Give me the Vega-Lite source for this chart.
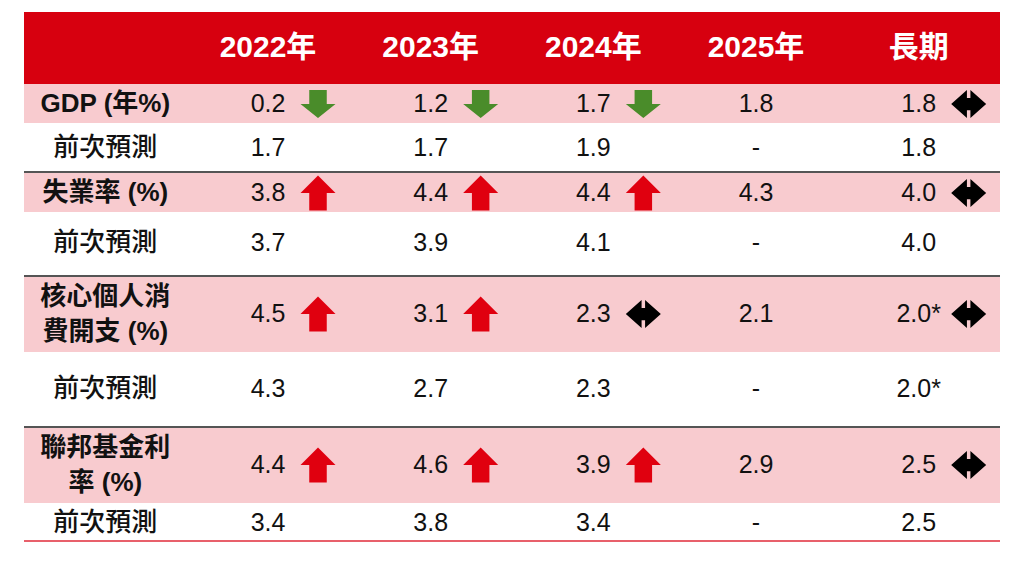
{
  "$schema": "https://vega.github.io/schema/vega-lite/v6.json",
  "width": 1024,
  "height": 571,
  "padding": 0,
  "autosize": {"type": "none"},
  "background": "#ffffff",
  "config": {"view": {"stroke": null}},
  "datasets": {
    "rows": [
      {"row": "header", "kind": "header", "top": 12, "bottom": 84, "mid": 48},
      {"row": "gdp", "kind": "main", "top": 84, "bottom": 123, "mid": 104},
      {"row": "prev1", "kind": "prev", "top": 123, "bottom": 172, "mid": 148},
      {"row": "unemp", "kind": "main", "top": 172, "bottom": 212, "mid": 193},
      {"row": "prev2", "kind": "prev", "top": 212, "bottom": 276, "mid": 243},
      {"row": "pce", "kind": "main", "top": 276, "bottom": 352, "mid": 314},
      {"row": "prev3", "kind": "prev", "top": 352, "bottom": 427, "mid": 389},
      {"row": "ffr", "kind": "main", "top": 427, "bottom": 503, "mid": 465},
      {"row": "prev4", "kind": "prev", "top": 503, "bottom": 541, "mid": 523}
    ],
    "lines": [
      {"y": 172, "kind": "sep"},
      {"y": 276, "kind": "sep"},
      {"y": 427, "kind": "sep"},
      {"y": 541, "kind": "end"}
    ],
    "header": [
      {"row": "header", "col": "2022年", "text": "2022年"},
      {"row": "header", "col": "2023年", "text": "2023年"},
      {"row": "header", "col": "2024年", "text": "2024年"},
      {"row": "header", "col": "2025年", "text": "2025年"},
      {"row": "header", "col": "長期", "text": "長期"}
    ],
    "labels": [
      {"row": "gdp", "kind": "main", "col": "label", "text": "GDP (年%)"},
      {"row": "prev1", "kind": "prev", "col": "label", "text": "前次預測"},
      {"row": "unemp", "kind": "main", "col": "label", "text": "失業率 (%)"},
      {"row": "prev2", "kind": "prev", "col": "label", "text": "前次預測"},
      {"row": "pce", "kind": "main2", "col": "label", "text": "核心個人消\n費開支 (%)"},
      {"row": "prev3", "kind": "prev", "col": "label", "text": "前次預測"},
      {"row": "ffr", "kind": "main2", "col": "label", "text": "聯邦基金利\n率 (%)"},
      {"row": "prev4", "kind": "prev", "col": "label", "text": "前次預測"}
    ],
    "cells": [
      {"row": "gdp", "col": "2022年", "text": "0.2", "arrow": "down"},
      {"row": "gdp", "col": "2023年", "text": "1.2", "arrow": "down"},
      {"row": "gdp", "col": "2024年", "text": "1.7", "arrow": "down"},
      {"row": "gdp", "col": "2025年", "text": "1.8", "arrow": null},
      {"row": "gdp", "col": "長期", "text": "1.8", "arrow": "both"},
      {"row": "prev1", "col": "2022年", "text": "1.7", "arrow": null},
      {"row": "prev1", "col": "2023年", "text": "1.7", "arrow": null},
      {"row": "prev1", "col": "2024年", "text": "1.9", "arrow": null},
      {"row": "prev1", "col": "2025年", "text": "-", "arrow": null},
      {"row": "prev1", "col": "長期", "text": "1.8", "arrow": null},
      {"row": "unemp", "col": "2022年", "text": "3.8", "arrow": "up"},
      {"row": "unemp", "col": "2023年", "text": "4.4", "arrow": "up"},
      {"row": "unemp", "col": "2024年", "text": "4.4", "arrow": "up"},
      {"row": "unemp", "col": "2025年", "text": "4.3", "arrow": null},
      {"row": "unemp", "col": "長期", "text": "4.0", "arrow": "both"},
      {"row": "prev2", "col": "2022年", "text": "3.7", "arrow": null},
      {"row": "prev2", "col": "2023年", "text": "3.9", "arrow": null},
      {"row": "prev2", "col": "2024年", "text": "4.1", "arrow": null},
      {"row": "prev2", "col": "2025年", "text": "-", "arrow": null},
      {"row": "prev2", "col": "長期", "text": "4.0", "arrow": null},
      {"row": "pce", "col": "2022年", "text": "4.5", "arrow": "up"},
      {"row": "pce", "col": "2023年", "text": "3.1", "arrow": "up"},
      {"row": "pce", "col": "2024年", "text": "2.3", "arrow": "both"},
      {"row": "pce", "col": "2025年", "text": "2.1", "arrow": null},
      {"row": "pce", "col": "長期", "text": "2.0*", "arrow": "both"},
      {"row": "prev3", "col": "2022年", "text": "4.3", "arrow": null},
      {"row": "prev3", "col": "2023年", "text": "2.7", "arrow": null},
      {"row": "prev3", "col": "2024年", "text": "2.3", "arrow": null},
      {"row": "prev3", "col": "2025年", "text": "-", "arrow": null},
      {"row": "prev3", "col": "長期", "text": "2.0*", "arrow": null},
      {"row": "ffr", "col": "2022年", "text": "4.4", "arrow": "up"},
      {"row": "ffr", "col": "2023年", "text": "4.6", "arrow": "up"},
      {"row": "ffr", "col": "2024年", "text": "3.9", "arrow": "up"},
      {"row": "ffr", "col": "2025年", "text": "2.9", "arrow": null},
      {"row": "ffr", "col": "長期", "text": "2.5", "arrow": "both"},
      {"row": "prev4", "col": "2022年", "text": "3.4", "arrow": null},
      {"row": "prev4", "col": "2023年", "text": "3.8", "arrow": null},
      {"row": "prev4", "col": "2024年", "text": "3.4", "arrow": null},
      {"row": "prev4", "col": "2025年", "text": "-", "arrow": null},
      {"row": "prev4", "col": "長期", "text": "2.5", "arrow": null}
    ]
  },
  "resolve": {"scale": {"x": "independent", "fill": "independent", "shape": "independent", "stroke": "independent"}},
  "layer": [
    {
      "data": {"name": "rows"},
      "mark": {"type": "rect", "strokeWidth": 0},
      "encoding": {
        "x": {"datum": 0, "type": "quantitative", "scale": {"domain": [0, 1], "range": [24, 1000], "nice": false, "zero": false}, "axis": null},
        "x2": {"datum": 1},
        "y": {"field": "top", "type": "quantitative", "scale": {"domain": [0, 571], "range": [0, 571], "nice": false, "zero": false}, "axis": null},
        "y2": {"field": "bottom"},
        "fill": {"field": "kind", "type": "nominal", "scale": {"domain": ["header", "main", "prev"], "range": ["#d7000f", "#f8cbcf", "#ffffff"]}, "legend": null}
      }
    },
    {
      "data": {"name": "lines"},
      "mark": {"type": "rule", "strokeWidth": 1.8},
      "encoding": {
        "x": {"datum": 0, "type": "quantitative", "scale": {"domain": [0, 1], "range": [24, 1000], "nice": false, "zero": false}, "axis": null},
        "x2": {"datum": 1},
        "y": {"field": "y", "type": "quantitative", "axis": null},
        "stroke": {"field": "kind", "type": "nominal", "scale": {"domain": ["sep", "end"], "range": ["#555555", "#e8606b"]}, "legend": null}
      }
    },
    {
      "data": {"name": "header"},
      "transform": [{"lookup": "row", "from": {"data": {"name": "rows"}, "key": "row", "fields": ["mid"]}}],
      "mark": {"type": "text", "font": "Liberation Sans, Noto Sans CJK TC", "fontSize": 30, "fontWeight": "bold", "color": "#ffffff", "align": "center", "baseline": "middle"},
      "encoding": {
        "x": {"field": "col", "type": "nominal", "scale": {"type": "band", "domain": ["label", "2022年", "2023年", "2024年", "2025年", "長期"], "range": [24, 1000], "paddingInner": 0, "paddingOuter": 0}, "axis": null},
        "y": {"field": "mid", "type": "quantitative", "axis": null},
        "text": {"field": "text", "type": "nominal"}
      }
    },
    {
      "data": {"name": "labels"},
      "transform": [
        {"filter": "datum.kind == 'main'"},
        {"lookup": "row", "from": {"data": {"name": "rows"}, "key": "row", "fields": ["mid"]}}
      ],
      "mark": {"type": "text", "font": "Liberation Sans, Noto Sans CJK TC", "fontSize": 26, "fontWeight": "bold", "color": "#111111", "align": "center", "baseline": "middle"},
      "encoding": {
        "x": {"field": "col", "type": "nominal", "scale": {"type": "band", "domain": ["label", "2022年", "2023年", "2024年", "2025年", "長期"], "range": [24, 1000], "paddingInner": 0, "paddingOuter": 0}, "axis": null},
        "y": {"field": "mid", "type": "quantitative", "axis": null},
        "text": {"field": "text", "type": "nominal"}
      }
    },
    {
      "data": {"name": "labels"},
      "transform": [
        {"filter": "datum.kind == 'main2'"},
        {"lookup": "row", "from": {"data": {"name": "rows"}, "key": "row", "fields": ["mid"]}}
      ],
      "mark": {"type": "text", "font": "Liberation Sans, Noto Sans CJK TC", "fontSize": 26, "fontWeight": "bold", "color": "#111111", "align": "center", "baseline": "middle", "lineBreak": "\n", "lineHeight": 35, "dy": -17},
      "encoding": {
        "x": {"field": "col", "type": "nominal", "scale": {"type": "band", "domain": ["label", "2022年", "2023年", "2024年", "2025年", "長期"], "range": [24, 1000], "paddingInner": 0, "paddingOuter": 0}, "axis": null},
        "y": {"field": "mid", "type": "quantitative", "axis": null},
        "text": {"field": "text", "type": "nominal"}
      }
    },
    {
      "data": {"name": "labels"},
      "transform": [
        {"filter": "datum.kind == 'prev'"},
        {"lookup": "row", "from": {"data": {"name": "rows"}, "key": "row", "fields": ["mid"]}}
      ],
      "mark": {"type": "text", "font": "Liberation Sans, Noto Sans CJK TC", "fontSize": 26, "fontWeight": 500, "color": "#111111", "align": "center", "baseline": "middle"},
      "encoding": {
        "x": {"field": "col", "type": "nominal", "scale": {"type": "band", "domain": ["label", "2022年", "2023年", "2024年", "2025年", "長期"], "range": [24, 1000], "paddingInner": 0, "paddingOuter": 0}, "axis": null},
        "y": {"field": "mid", "type": "quantitative", "axis": null},
        "text": {"field": "text", "type": "nominal"}
      }
    },
    {
      "data": {"name": "cells"},
      "transform": [{"lookup": "row", "from": {"data": {"name": "rows"}, "key": "row", "fields": ["mid"]}}],
      "mark": {"type": "text", "font": "Liberation Sans, Noto Sans CJK TC", "fontSize": 25, "color": "#111111", "align": "center", "baseline": "middle"},
      "encoding": {
        "x": {"field": "col", "type": "nominal", "scale": {"type": "band", "domain": ["label", "2022年", "2023年", "2024年", "2025年", "長期"], "range": [24, 1000], "paddingInner": 0, "paddingOuter": 0}, "axis": null},
        "y": {"field": "mid", "type": "quantitative", "axis": null},
        "text": {"field": "text", "type": "nominal"}
      }
    },
    {
      "data": {"name": "cells"},
      "transform": [
        {"filter": "datum.arrow != null"},
        {"lookup": "row", "from": {"data": {"name": "rows"}, "key": "row", "fields": ["mid"]}}
      ],
      "mark": {"type": "point", "filled": true, "opacity": 1, "size": 1225, "strokeWidth": 0, "xOffset": 50},
      "encoding": {
        "x": {"field": "col", "type": "nominal", "scale": {"type": "band", "domain": ["label", "2022年", "2023年", "2024年", "2025年", "長期"], "range": [24, 1000], "paddingInner": 0, "paddingOuter": 0}, "axis": null},
        "y": {"field": "mid", "type": "quantitative", "axis": null},
        "shape": {"field": "arrow", "type": "nominal", "scale": {"domain": ["up", "down", "both"], "range": ["M0,-1L1,0L0.5,0L0.5,1L-0.5,1L-0.5,0L-1,0Z", "M-0.5,-0.8L0.5,-0.8L0.5,0L1,0L0,0.8L-1,0L-0.5,0Z", "M-1,0L-0.1,-0.8L-0.1,-0.35L0.1,-0.35L0.1,-0.8L1,0L0.1,0.8L0.1,0.35L-0.1,0.35L-0.1,0.8Z"]}, "legend": null},
        "fill": {"field": "arrow", "type": "nominal", "scale": {"domain": ["up", "down", "both"], "range": ["#e0000f", "#4a8c2a", "#000000"]}, "legend": null}
      }
    }
  ]
}
